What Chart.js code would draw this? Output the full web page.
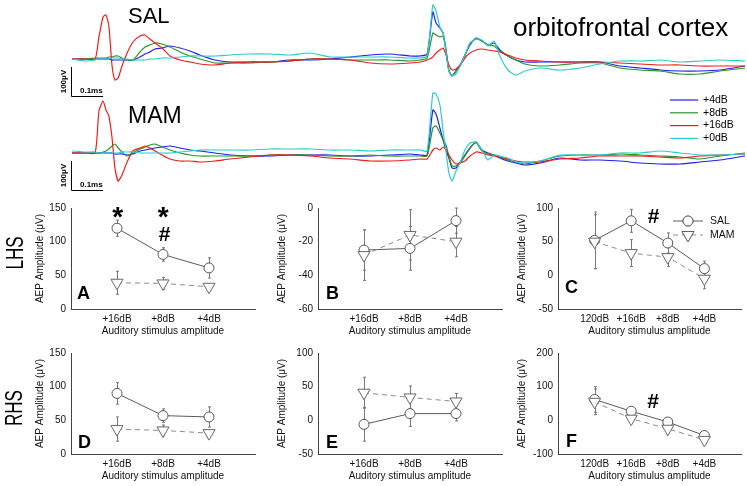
<!DOCTYPE html>
<html>
<head>
<meta charset="utf-8">
<script src="https://cdn.jsdelivr.net/npm/chart.js@4.4.1/dist/chart.umd.min.js"></script>
<style>
  body { margin: 0; background: #fff; }
  #fig { position: relative; width: 747px; height: 486px; overflow: hidden; font-family: 'Liberation Sans', Arial, sans-serif; }
  #fig canvas { position: absolute; }
  .txt { position: absolute; line-height: 1; white-space: nowrap; color: #000; }
</style>
</head>
<body>
<div id="fig"></div>
<script>
// ---- evoked potential traces (time in ms, amplitude) ----
const times = [0, 0.041, 0.072, 0.084, 0.097, 0.106, 0.115, 0.125, 0.134, 0.144,
  0.156, 0.172, 0.190, 0.212, 0.228, 0.243, 0.259, 0.281, 0.306, 0.337,
  0.368, 0.399, 0.446, 0.493, 0.555, 0.618, 0.680, 0.743, 0.805, 0.867,
  0.930, 0.992, 1.055, 1.086, 1.108, 1.126, 1.136, 1.148, 1.158, 1.167,
  1.176, 1.186, 1.198, 1.211, 1.226, 1.242, 1.261, 1.279, 1.298, 1.317,
  1.335, 1.360, 1.385, 1.413, 1.460, 1.523, 1.585, 1.647, 1.710, 1.772,
  1.835, 1.897, 1.959, 2.022, 2.100];
const traceLabels = ['+4dB', '+8dB', '+16dB', '+0dB'];

const salBlue = [0,0,0,0,0,0,0,-1,-1,-1, -1,-1,-1,2,5,7,10,11,13,11, 8,4,-1,-3,-3,-3,-1,-1,0,2,
  4,5,3,3,5,47,36,31,26,9, -12,-17,-12,-6,4,14,21,18,14,16, 9,3,-1,-3,-3,-3,-3,-3,-7,-9, -11,-12,-12,-11,-7];
const salGreen = [0,0,1,1,1,1,2,2,3,3, 1,-1,-1,7,12,14,16,15,12,7, 3,0,-4,-4,-4,-3,-2,0,0,-1,
  -1,-1,-2,-1,1,26,24,22,23,9, -11,-17,-12,-7,3,16,20,18,14,13, 8,3,-1,-5,-7,-6,-4,-4,-9,-11, -12,-15,-15,-12,-9];
const salRed = [0,0,0,22,42,44,33,-7,-21,-19, -7,6,17,23,24,20,16,11,3,-1, -3,-5,-6,-4,-3,-3,-2,0,0,-1,
  -4,-5,-4,-3,-1,2,6,9,11,4, -6,-11,-10,-6,1,6,9,10,9,8, 7,4,1,-1,-2,-3,-3,-3,-4,-5, -6,-6,-7,-7,-7];
const salCyan = [0,-2,-1,0,0,0,0,1,1,1, 0,0,-1,-1,-1,0,0,1,1,2, 3,3,3,4,5,5,4,6,2,2,
  2,2,1,1,3,54,48,32,26,6, -12,-17,-15,-7,4,16,20,19,13,18, 3,-11,-16,-12,-9,-11,-9,-5,-2,-2, -1,-3,-2,-1,-2];

const mamBlue = [0,0,0,0,0,0,0,0,-1,-1, -1,-2,-1,2,3,4,5,6,7,5, 3,2,0,-2,-3,-3,-2,-2,-2,-3,
  -3,-2,-1,-2,-2,43,39,25,13,3, -5,-15,-15,-9,-2,5,11,3,0,-2, -5,-8,-10,-12,-10,-5,-7,-7,-8,-10, -11,-11,-9,-7,-3];
const mamGreen = [0,0,0,0,1,2,4,7,9,5, 1,-3,0,4,6,8,9,6,3,0, -2,-3,-3,-3,-3,-2,-2,-2,-3,-3,
  -2,-3,-3,-3,-3,25,27,20,13,8, -3,-13,-13,-10,-3,5,10,2,-1,-2, -4,-7,-9,-11,-8,-3,-2,-2,-1,-2, -3,-4,-6,-3,0];
const mamRed = [0,0,0,42,52,43,37,15,-15,-28, -22,-9,2,5,7,5,2,-2,-6,-8, -8,-9,-8,-6,-4,-2,-2,-3,-5,-6,
  -8,-8,-7,-6,-6,3,5,3,6,3, -2,-7,-11,-10,-8,-3,1,0,-2,-3, -4,-6,-8,-9,-9,-6,-5,-3,-3,-3, -4,-5,-3,-2,-1];
const mamCyan = [2,1,1,0,0,0,0,0,0,0, 1,1,1,0,0,0,0,0,0,1, 2,3,3,3,3,4,4,4,3,3,
  2,3,3,3,2,60,59,48,22,2, -20,-28,-18,-10,3,10,11,3,-7,-2, -3,-5,-9,-10,-8,-2,-2,-2,0,0, 2,0,-2,-2,-1];

// ---- group means (μV) and error bars ----
const levels3 = ['+16dB', '+8dB', '+4dB'];
const levels4 = ['120dB', '+16dB', '+8dB', '+4dB'];

const salA = [120, 81, 61];      const salAErr = [12, 10, 15];
const mamA = [39, 38, 33];       const mamAErr = [17, 9, 3];
const salB = [-25, -24, -7.5];   const salBErr = [12, 13, 7.5];
const mamB = [-28, -16, -20];    const mamBErr = [15, 15, 9];
const salC = [52, 81, 48, 10];   const salCErr = [42, 17, 15, 11];
const mamC = [50, 33, 27, -5];   const mamCErr = [40, 20, 14, 15];
const salD = [90, 57, 55];       const salDErr = [16, 10, 15];
const mamD = [37, 35, 31];       const mamDErr = [18, 8, 4];
const salE = [-6, 10, 10];       const salEErr = [25, 19, 11];
const mamE = [41, 34, 28];       const mamEErr = [23, 17, 12];
const salF = [62, 27, -5, -45];  const salFErr = [38, 10, 10, 8];
const mamF = [55, 5, -25, -58];  const mamFErr = [38, 10, 10, 8];

Chart.defaults.font.family = "'Liberation Sans', Arial, sans-serif";
Chart.defaults.color = '#111';

const fig = document.getElementById('fig');
const traceColors = ['#1f1fef', '#2a962a', '#f01c1c', '#2ccccc'];

function makeCanvas(left, top, w, h) {
  const c = document.createElement('canvas');
  c.width = w; c.height = h;
  c.style.left = left + 'px'; c.style.top = top + 'px';
  fig.appendChild(c);
  return c;
}

function text(str, x, capTop, size, opts = {}) {
  const d = document.createElement('div');
  d.className = 'txt';
  d.textContent = str;
  d.style.fontSize = size + 'px';
  d.style.fontWeight = opts.bold ? 'bold' : 'normal';
  d.style.left = x + 'px';
  d.style.top = (capTop - 0.13 * size) + 'px';
  if (opts.center) d.style.transform = 'translateX(-50%)';
  if (opts.rotate) {
    d.style.top = capTop + 'px';
    d.style.transform = 'translate(-50%,-50%) rotate(-90deg) scaleX(0.74)';
  }
  fig.appendChild(d);
}

// scale bar: 0.1 ms horizontally, 100 μV (29 px) vertically
function scaleBar(barBottom) {
  return {
    id: 'scaleBar',
    afterDraw(chart) {
      const ctx = chart.ctx, x = chart.scales.x;
      const x0 = 71, len = x.getPixelForValue(0.1) - x.getPixelForValue(0);
      ctx.save();
      ctx.strokeStyle = '#000'; ctx.lineWidth = 1;
      ctx.beginPath();
      ctx.moveTo(x0 + 0.5, barBottom - 29); ctx.lineTo(x0 + 0.5, barBottom + 0.5);
      ctx.lineTo(x0 + len, barBottom + 0.5);
      ctx.stroke();
      ctx.fillStyle = '#000';
      ctx.font = "bold 8px 'Liberation Sans', Arial, sans-serif";
      ctx.textBaseline = 'alphabetic'; ctx.textAlign = 'left';
      ctx.fillText('0.1ms', x0 + 9, barBottom - 3);
      ctx.translate(64, barBottom - 14.5);
      ctx.rotate(-Math.PI / 2);
      ctx.textAlign = 'center'; ctx.textBaseline = 'middle';
      ctx.fillText('100μV', 0, 0);
      ctx.restore();
    }
  };
}

const traceLegend = {
  id: 'traceLegend',
  afterDraw(chart) {
    const ctx = chart.ctx;
    ctx.save();
    ctx.font = "10.5px 'Liberation Sans', Arial, sans-serif";
    ctx.textBaseline = 'middle';
    traceLabels.forEach((lab, i) => {
      const y = 15 + i * 12.8;
      ctx.strokeStyle = traceColors[i]; ctx.lineWidth = 1.2;
      ctx.beginPath(); ctx.moveTo(670, y); ctx.lineTo(698, y); ctx.stroke();
      ctx.fillStyle = '#000';
      ctx.fillText(lab, 703, y);
    });
    ctx.restore();
  }
};

function traceChart(canvas, series, yMin, yMax, extra) {
  return new Chart(canvas, {
    type: 'line',
    data: {
      datasets: series.map((vals, k) => ({
        data: times.map((t, i) => ({ x: t, y: vals[i] })),
        borderColor: traceColors[k],
        borderWidth: 1.2,
        pointRadius: 0,
        tension: 0.2
      })).reverse()
    },
    options: {
      responsive: false,
      animation: false,
      layout: { padding: { left: 72, right: 2, top: 0, bottom: 0 } },
      scales: {
        x: { type: 'linear', display: false, min: 0, max: 2.1 },
        y: { display: false, min: yMin, max: yMax }
      },
      plugins: { legend: { display: false }, tooltip: { enabled: false } }
    },
    plugins: extra
  });
}

traceChart(makeCanvas(0, 0, 747, 100), [salBlue, salGreen, salRed, salCyan], -41, 59, [scaleBar(96)]);
traceChart(makeCanvas(0, 85, 747, 110), [mamBlue, mamGreen, mamRed, mamCyan], -42, 68, [scaleBar(105), traceLegend]);

// ---- error bars for the group plots ----
const errorBars = {
  id: 'errorBars',
  beforeDatasetsDraw(chart) {
    const { ctx, scales: { y } } = chart;
    chart.data.datasets.forEach((ds, i) => {
      const meta = chart.getDatasetMeta(i);
      ctx.save();
      ctx.strokeStyle = '#777'; ctx.lineWidth = 1;
      ds.data.forEach((pt, j) => {
        const px = Math.round(meta.data[j].x) + 0.5;
        const t = y.getPixelForValue(pt.y + ds.errors[j]);
        const b = y.getPixelForValue(pt.y - ds.errors[j]);
        ctx.beginPath();
        ctx.moveTo(px, t); ctx.lineTo(px, b);
        ctx.moveTo(px - 1.5, t); ctx.lineTo(px + 1.5, t);
        ctx.moveTo(px - 1.5, b); ctx.lineTo(px + 1.5, b);
        ctx.stroke();
      });
      ctx.restore();
    });
  }
};

// legend inside panel C (pixel offsets from the y axis / top of plot)
const groupLegend = {
  id: 'groupLegend',
  afterDraw(chart) {
    const ctx = chart.ctx, a = chart.chartArea;
    const x0 = a.left + 115, x1 = a.left + 145, xm = a.left + 130;
    const rows = [{ y: a.top + 13, label: 'SAL', dash: [], circle: true },
                  { y: a.top + 27, label: 'MAM', dash: [5, 4], circle: false }];
    ctx.save();
    ctx.font = "10.5px 'Liberation Sans', Arial, sans-serif";
    ctx.textBaseline = 'middle';
    rows.forEach(r => {
      ctx.strokeStyle = r.circle ? '#5a5a5a' : '#8a8a8a';
      ctx.lineWidth = 1;
      ctx.setLineDash(r.dash);
      ctx.beginPath(); ctx.moveTo(x0, r.y); ctx.lineTo(x1, r.y); ctx.stroke();
      ctx.setLineDash([]);
      Chart.helpers.drawPoint(ctx, {
        pointStyle: r.circle ? 'circle' : 'triangle',
        radius: r.circle ? 5 : 7, rotation: r.circle ? 0 : 180, borderWidth: 1
      }, xm, r.y);
      ctx.fillStyle = '#fff';
      ctx.strokeStyle = '#666';
      ctx.beginPath();
      if (r.circle) { ctx.arc(xm, r.y, 5, 0, Math.PI * 2); }
      else { ctx.moveTo(xm - 6, r.y - 3.5); ctx.lineTo(xm + 6, r.y - 3.5); ctx.lineTo(xm, r.y + 7); ctx.closePath(); }
      ctx.fill(); ctx.stroke();
      ctx.fillStyle = '#111';
      ctx.fillText(r.label, a.left + 152, r.y);
    });
    ctx.restore();
  }
};

const panels = [
  { left: 71,  right: 257, top: 207, bottom: 309, levels: levels3, sal: salA, salErr: salAErr, mam: mamA, mamErr: mamAErr, yMin: 0,   yMax: 150, yStep: 50,  gap: 31 },
  { left: 318, right: 504, top: 207, bottom: 309, levels: levels3, sal: salB, salErr: salBErr, mam: mamB, mamErr: mamBErr, yMin: -60, yMax: 0,   yStep: 20,  gap: 36 },
  { left: 558, right: 743, top: 207, bottom: 309, levels: levels4, sal: salC, salErr: salCErr, mam: mamC, mamErr: mamCErr, yMin: -50, yMax: 100, yStep: 50,  gap: 36, extra: [groupLegend] },
  { left: 71,  right: 257, top: 352, bottom: 454, levels: levels3, sal: salD, salErr: salDErr, mam: mamD, mamErr: mamDErr, yMin: 0,   yMax: 150, yStep: 50,  gap: 31 },
  { left: 318, right: 504, top: 352, bottom: 454, levels: levels3, sal: salE, salErr: salEErr, mam: mamE, mamErr: mamEErr, yMin: -50, yMax: 100, yStep: 50,  gap: 36 },
  { left: 558, right: 743, top: 352, bottom: 454, levels: levels4, sal: salF, salErr: salFErr, mam: mamF, mamErr: mamFErr, yMin: -100, yMax: 200, yStep: 100, gap: 36 }
];

panels.forEach(p => {
  const W = 50 + (p.right - p.left) + 6, H = 10 + (p.bottom - p.top) + 34;
  new Chart(makeCanvas(p.left - 50, p.top - 10, W, H), {
    type: 'line',
    data: {
      datasets: [
        { data: p.mam.map((v, i) => ({ x: i + 1, y: v })), errors: p.mamErr,
          borderColor: '#8a8a8a', borderDash: [5, 4], borderWidth: 1,
          pointStyle: 'triangle', pointRotation: 180, pointRadius: 7,
          pointBackgroundColor: '#fff', pointBorderColor: '#666', pointBorderWidth: 1 },
        { data: p.sal.map((v, i) => ({ x: i + 1, y: v })), errors: p.salErr,
          borderColor: '#5a5a5a', borderWidth: 1,
          pointStyle: 'circle', pointRadius: 5,
          pointBackgroundColor: '#fff', pointBorderColor: '#555', pointBorderWidth: 1 }
      ]
    },
    options: {
      responsive: false,
      animation: false,
      layout: { padding: { left: 0, right: 6, top: 10, bottom: 0 } },
      scales: {
        x: {
          type: 'linear', min: 0, max: p.levels.length + 1,
          afterBuildTicks: s => { s.ticks = p.levels.map((l, i) => ({ value: i + 1 })); },
          afterFit: s => { s.height = 34; },
          grid: { display: false, drawTicks: false },
          border: { color: '#444' },
          ticks: { padding: 4, autoSkip: false, maxRotation: 0, font: { size: 10 },
                   callback: v => p.levels[v - 1] },
          title: { display: true, text: 'Auditory stimulus amplitude', font: { size: 10 },
                   padding: { top: 0, bottom: 6 } }
        },
        y: {
          min: p.yMin, max: p.yMax,
          afterFit: s => { s.width = 50; },
          grid: { display: false, drawTicks: false },
          border: { color: '#444' },
          ticks: { stepSize: p.yStep, padding: 5, font: { size: 10 } },
          title: { display: true, text: 'AEP Amplitude (μV)', font: { size: 10 },
                   padding: { top: 50 - p.gap - 6, bottom: 0 } }
        }
      },
      plugins: { legend: { display: false }, tooltip: { enabled: false } }
    },
    plugins: [errorBars].concat(p.extra || [])
  });
});

// ---- text ----
text('SAL', 128, 8, 22);
text('MAM', 128, 107, 23);
text('orbitofrontal cortex', 513, 17, 26);
text('LHS', 15, 253, 23, { rotate: true });
text('RHS', 14, 408, 23, { rotate: true });
text('A', 77, 286, 18, { bold: true });
text('B', 326, 286, 18, { bold: true });
text('C', 565, 280, 18, { bold: true });
text('D', 78, 435, 18, { bold: true });
text('E', 326, 435, 18, { bold: true });
text('F', 566, 434, 18, { bold: true });
text('*', 117.7, 207, 28, { bold: true, center: true });
text('*', 163.3, 207, 28, { bold: true, center: true });
text('#', 164.5, 226, 21, { bold: true, center: true });
text('#', 653.5, 208, 21, { bold: true, center: true });
text('#', 653, 393, 21, { bold: true, center: true });
</script>
</body>
</html>
